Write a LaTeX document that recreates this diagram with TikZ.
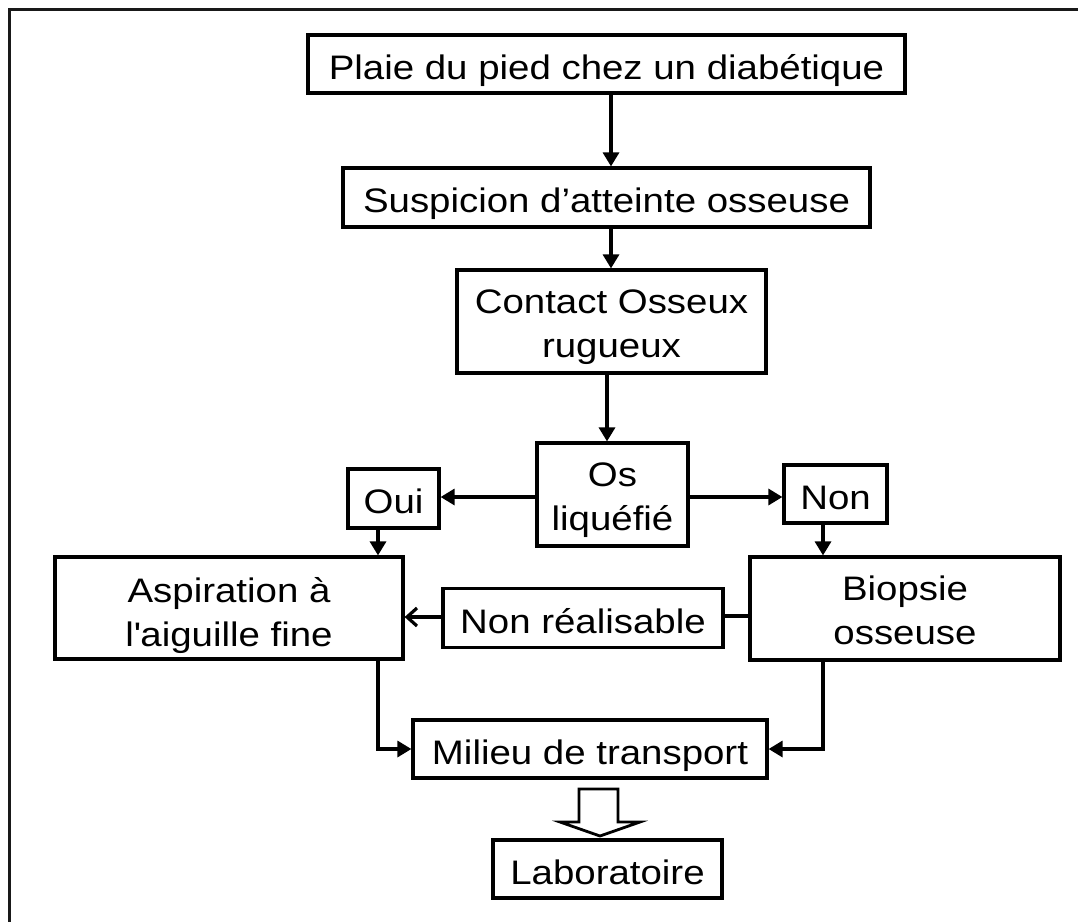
\documentclass[tikz,border=0pt]{standalone}
\usepackage{fontspec}
\setmainfont{Liberation Sans}[FakeStretch=1.13]
\usetikzlibrary{arrows.meta}
\begin{document}
\begin{tikzpicture}[x=1pt,y=-1pt,
  box/.style={draw=black,line width=3.2pt,inner sep=0pt,align=center,
    font=\fontsize{34}{44}\selectfont,text=black},
  oneline/.style={box,text height=30pt,text depth=0pt},
  twoline/.style={box,text height=71pt,text depth=0pt},
  arr/.style={line width=3.2pt,-{Triangle[length=14pt,width=16pt]}},
  barb/.style={line width=3.2pt,-{Straight Barb[length=10pt,width=18pt]}},
  link/.style={line width=3.2pt}]
\useasboundingbox (0,0) rectangle (1078,921);
\fill[white] (0,0) rectangle (1078,921);
\clip (0,0) rectangle (1078,921);
% outer frame (only top and left edges fall inside the page)
\draw[line width=3.2pt,black!90] (9.5,940) -- (9.5,9.5) -- (1100,9.5);

% boxes
\node[oneline,minimum width=597pt,minimum height=58pt] (b1) at (606.5,64) {Plaie du pied chez un diabétique};
\node[oneline,minimum width=527pt,minimum height=59pt] (b2) at (606.5,197.5) {Suspicion d’atteinte osseuse};
\node[twoline,minimum width=309pt,minimum height=103pt] (b3) at (611.5,321.5) {Contact Osseux\\rugueux};
\node[twoline,minimum width=151pt,minimum height=103pt] (os) at (612.5,494.5) {Os\\liquéfié};
\node[oneline,minimum width=91pt,minimum height=59pt] (oui) at (393.5,498.5) {Oui};
\node[oneline,minimum width=103pt,minimum height=58pt] (non) at (835.5,494) {Non};
\node[twoline,text height=76pt,minimum width=348pt,minimum height=102pt] (asp) at (229,608) {Aspiration à\\l\textquotesingle aiguille fine};
\node[twoline,minimum width=310pt,minimum height=103pt] (bio) at (905,608.5) {Biopsie\\osseuse};
\node[oneline,minimum width=280pt,minimum height=59pt] (nr) at (583,618) {Non réalisable};
\node[oneline,minimum width=354pt,minimum height=58pt] (mil) at (590,749) {Milieu de transport};
\node[oneline,minimum width=229pt,minimum height=58pt] (lab) at (607.5,869) {Laboratoire};

% connectors
\draw[arr] (b1.south -| 611,0) -- (b2.north -| 611,0);
\draw[arr] (b2.south -| 611,0) -- (b3.north -| 611,0);
\draw[arr] (b3.south -| 607,0) -- (os.north -| 607,0);
\draw[arr] (os.west |- 0,497) -- (oui.east |- 0,497);
\draw[arr] (os.east |- 0,497) -- (non.west |- 0,497);
\draw[arr] (oui.south -| 378,0) -- (asp.north -| 378,0);
\draw[arr] (non.south -| 823,0) -- (bio.north -| 823,0);
\draw[link] (bio.west |- 0,616) -- (nr.east |- 0,616);
\draw[barb] (nr.west |- 0,617) -- (asp.east |- 0,617);
\draw[arr] (asp.south -| 378,0) |- (mil.west);
\draw[arr] (bio.south -| 823,0) |- (mil.east);

% hollow block arrow to the laboratory
\draw[line width=2.8pt,line join=miter,fill=white]
  (579,789) -- (618,789) -- (618,822) -- (640,822) -- (600,836)
  -- (560,822) -- (579,822) -- cycle;
\end{tikzpicture}
\end{document}
